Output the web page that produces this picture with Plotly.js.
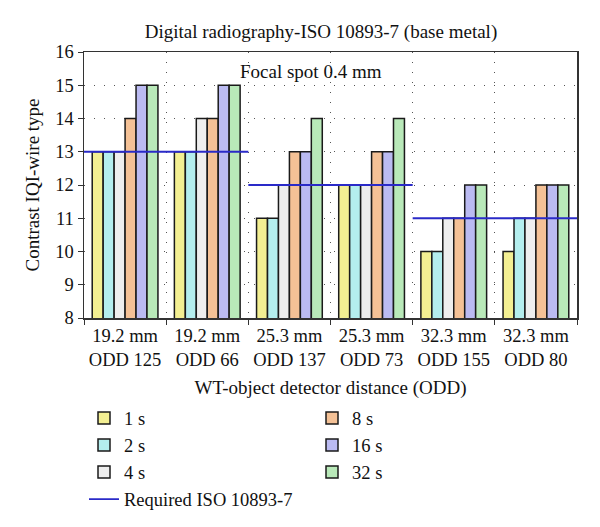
<!DOCTYPE html>
<html>
<head>
<meta charset="utf-8">
<script src="https://cdn.plot.ly/plotly-3.0.1.min.js"></script>
<style>html,body{margin:0;padding:0;background:#fff;}#chart{width:600px;height:527px;}</style>
</head>
<body>
<div id="chart"></div>
<script>
// ---- data ----
const categories = ["19.2 mm<br>ODD 125", "19.2 mm<br>ODD 66", "25.3 mm<br>ODD 137", "25.3 mm<br>ODD 73", "32.3 mm<br>ODD 155", "32.3 mm<br>ODD 80"];
const seriesNames = ["1 s", "2 s", "4 s", "8 s", "16 s", "32 s"];
const s1 = [13, 13, 11, 12, 10, 10];
const s2 = [13, 13, 11, 12, 10, 11];
const s4 = [13, 14, 12, 12, 11, 11];
const s8 = [14, 14, 13, 13, 11, 12];
const s16 = [15, 15, 13, 13, 12, 12];
const s32 = [15, 15, 14, 14, 12, 12];
const required = [13, 12, 11]; // one value per pair of categories
const requiredName = "Required ISO 10893-7";

const seriesValues = [s1, s2, s4, s8, s16, s32];
const colors = ["#f3ef92", "#b4eeee", "#eeeeee", "#f4c196", "#bbbbf2", "#b9e9b9"];
const legendRanks = [1, 3, 5, 2, 4, 6];

const FONT = "Liberation Serif";

const traces = seriesValues.map((vals, i) => ({
  type: "bar",
  name: seriesNames[i],
  x: categories,
  y: vals,
  base: 0,
  marker: {color: colors[i], line: {color: "#1a1a1a", width: 1.5}},
  legendrank: legendRanks[i]
}));

// required line: each value spans two categories, on an overlaid linear axis
const lx = [], ly = [];
required.forEach((v, k) => {
  if (k > 0) { lx.push(null); ly.push(null); }
  lx.push(2 * k - 0.5, 2 * k + 1.5);
  ly.push(v, v);
});
traces.push({
  type: "scatter", mode: "lines", name: requiredName,
  x: lx, y: ly, xaxis: "x2",
  line: {color: "#2a2ac8", width: 1.8},
  legendrank: 7
});

const layout = {
  width: 600, height: 527,
  margin: {l: 84, r: 23, t: 52, b: 209},
  paper_bgcolor: "#fff", plot_bgcolor: "#fff",
  font: {family: FONT, size: 17, color: "#111"},
  title: {text: "Digital radiography-ISO 10893-7 (base metal)", x: 0.535, xanchor: "center", y: 0.94, yanchor: "middle", font: {family: FONT, size: 19, color: "#111"}},
  barmode: "group", bargap: 0.2, bargroupgap: 0,
  showlegend: true,
  legend: {orientation: "h", x: 0, xanchor: "left", yref: "container", y: 0.242, yanchor: "top", entrywidth: 183, entrywidthmode: "pixels", font: {family: FONT, size: 18.5, color: "#111"}, bgcolor: "rgba(0,0,0,0)", traceorder: "normal"},
  xaxis: {
    type: "category", tickson: "boundaries", ticks: "outside", ticklen: 5, tickcolor: "#333",
    showline: true, linecolor: "#333", linewidth: 1.5, mirror: true,
    showgrid: true, gridcolor: "#555", griddash: "1px,9px", gridwidth: 1,
    tickfont: {family: FONT, size: 18.5, color: "#111"},
    title: {text: "WT-object detector distance (ODD)", font: {family: FONT, size: 19, color: "#111"}, standoff: 14},
    range: [-0.5, 5.5], fixedrange: true, automargin: false
  },
  xaxis2: {overlaying: "x", visible: false, range: [-0.5, 5.5], type: "linear"},
  yaxis: {
    range: [8, 16], dtick: 1, ticks: "outside", ticklen: 5, tickcolor: "#333",
    showline: true, linecolor: "#333", linewidth: 1.5, mirror: true,
    showgrid: true, gridcolor: "#555", griddash: "1px,9px", gridwidth: 1, zeroline: false,
    tickfont: {family: FONT, size: 18.5, color: "#111"},
    title: {text: "Contrast IQI-wire type", font: {family: FONT, size: 19, color: "#111"}, standoff: 10},
    automargin: false
  },
  annotations: [{
    text: "Focal spot 0.4 mm", xref: "paper", yref: "paper", x: 0.46, y: 0.925,
    xanchor: "center", yanchor: "middle", showarrow: false,
    font: {family: FONT, size: 19, color: "#111"}
  }]
};

Plotly.newPlot("chart", traces, layout, {displayModeBar: false, staticPlot: true});
</script>
</body>
</html>
